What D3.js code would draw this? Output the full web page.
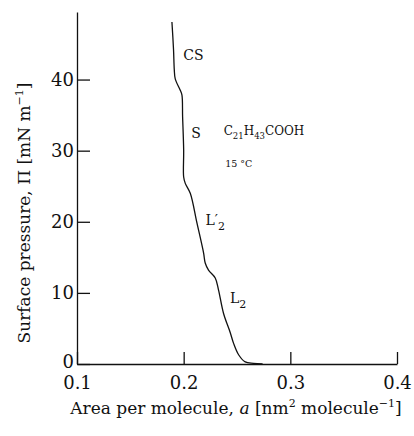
<!DOCTYPE html>
<html>
<head>
<meta charset="utf-8">
<script src="https://cdn.jsdelivr.net/npm/d3@7"></script>
<style>
  html, body { margin: 0; padding: 0; background: #fff; }
  svg { display: block; font-family: "DejaVu Serif", "Liberation Serif", serif; }
  .axis path, .axis line { stroke: #111; stroke-width: 1.3; }
  .axis text { font-family: "DejaVu Serif", serif; font-size: 18px; fill: #111; }
</style>
</head>
<body>
<div id="chart"></div>
<script>
// isotherm of behenic acid
const areaValues = [0.189, 0.1905, 0.1912, 0.1921, 0.1968, 0.1984, 0.199, 0.2, 0.2, 0.2015,
  0.2062, 0.2125, 0.2187, 0.2202, 0.2233, 0.2296, 0.2327, 0.2374, 0.2437, 0.2468,
  0.2515, 0.2577, 0.2655, 0.274];
const pressureValues = [48.1, 44.2, 41.4, 40.1, 38.5, 37.8, 34.8, 30.1, 26.3, 25.4,
  24.0, 19.8, 15.6, 14.2, 13.2, 12.1, 10.4, 7.1, 4.4, 2.9,
  1.3, 0.3, 0.1, 0];
const xTicks = [0.1, 0.2, 0.3, 0.4];
const yTicks = [0, 10, 20, 30, 40];
const phaseLabels = [
  { text: "CS", a: 0.1997, p: 42.8 },
  { text: "S", a: 0.2072, p: 31.8 },
  { text: "L", prime: true, a: 0.2205, p: 19.6 },
  { text: "L", prime: false, a: 0.2435, p: 8.6 }
];

const width = 414, height = 436;
const margin = { top: 12, right: 17, bottom: 72, left: 77 };

const svg = d3.select("#chart").append("svg")
  .attr("width", width)
  .attr("height", height);

const x = d3.scaleLinear().domain([0.1, 0.4]).range([margin.left, width - margin.right]);
const y = d3.scaleLinear().domain([0, 49.5]).range([height - margin.bottom, margin.top]);

// axes with inward ticks
svg.append("g")
  .attr("class", "axis x-axis")
  .attr("transform", `translate(0,${y(0)})`)
  .call(d3.axisBottom(x).tickValues(xTicks).tickFormat(d3.format(".1f"))
    .tickSizeInner(-12).tickSizeOuter(0).tickPadding(12))
  .call((g) => g.selectAll(".tick text").attr("dy", "0.71em"));

svg.append("g")
  .attr("class", "axis y-axis")
  .attr("transform", `translate(${x(0.1)},0)`)
  .call(d3.axisLeft(y).tickValues(yTicks).tickFormat(d3.format("d"))
    .tickSizeInner(-13).tickSizeOuter(0).tickPadding(3))
  .call((g) => g.select(".tick text").attr("dy", "0.2em"));

// the isotherm curve
const points = areaValues.map((a, i) => [a, pressureValues[i]]);
svg.append("path")
  .datum(points)
  .attr("fill", "none")
  .attr("stroke", "#111")
  .attr("stroke-width", 1.3)
  .attr("d", d3.line().x((d) => x(d[0])).y((d) => y(d[1])).curve(d3.curveCatmullRom));

// phase labels
const labels = svg.append("g").attr("font-size", 14).attr("fill", "#111");
phaseLabels.forEach((d) => {
  const t = labels.append("text").attr("x", x(d.a)).attr("y", y(d.p));
  t.append("tspan").text(d.text + (d.text === "L" && d.prime ? "\u2032" : ""));
  if (d.text === "L") {
    t.append("tspan").attr("dy", 5).attr("font-size", 11).text("2");
  }
});

// compound and temperature
const comp = labels.append("text").attr("x", x(0.2375)).attr("y", y(32.2));
[["C", 0], ["21", 4], ["H", -4], ["43", 4], ["COOH", -4]].forEach(([s, dy]) => {
  comp.append("tspan").attr("dy", dy).attr("font-size", dy > 0 ? 8.5 : 12).text(s);
});
labels.append("text")
  .attr("x", x(0.2389)).attr("y", y(27.7))
  .attr("font-size", 9.5)
  .text("15 \u00b0C");

// axis titles
const yTitle = svg.append("text")
  .attr("transform", `translate(30,213) rotate(-90)`)
  .attr("text-anchor", "middle")
  .attr("font-size", 17)
  .attr("fill", "#111");
yTitle.append("tspan").text("Surface pressure, \u03a0 [mN m");
yTitle.append("tspan").attr("dy", -7).attr("font-size", 11).text("\u22121");
yTitle.append("tspan").attr("dy", 7).text("]");

const xTitle = svg.append("text")
  .attr("x", 236).attr("y", 414)
  .attr("text-anchor", "middle")
  .attr("font-size", 17)
  .attr("fill", "#111");
xTitle.append("tspan").text("Area per molecule, ");
xTitle.append("tspan").attr("font-style", "italic").text("a");
xTitle.append("tspan").text(" [nm");
xTitle.append("tspan").attr("dy", -7).attr("font-size", 11).text("2");
xTitle.append("tspan").attr("dy", 7).text(" molecule");
xTitle.append("tspan").attr("dy", -7).attr("font-size", 11).text("\u22121");
xTitle.append("tspan").attr("dy", 7).text("]");
</script>
</body>
</html>
